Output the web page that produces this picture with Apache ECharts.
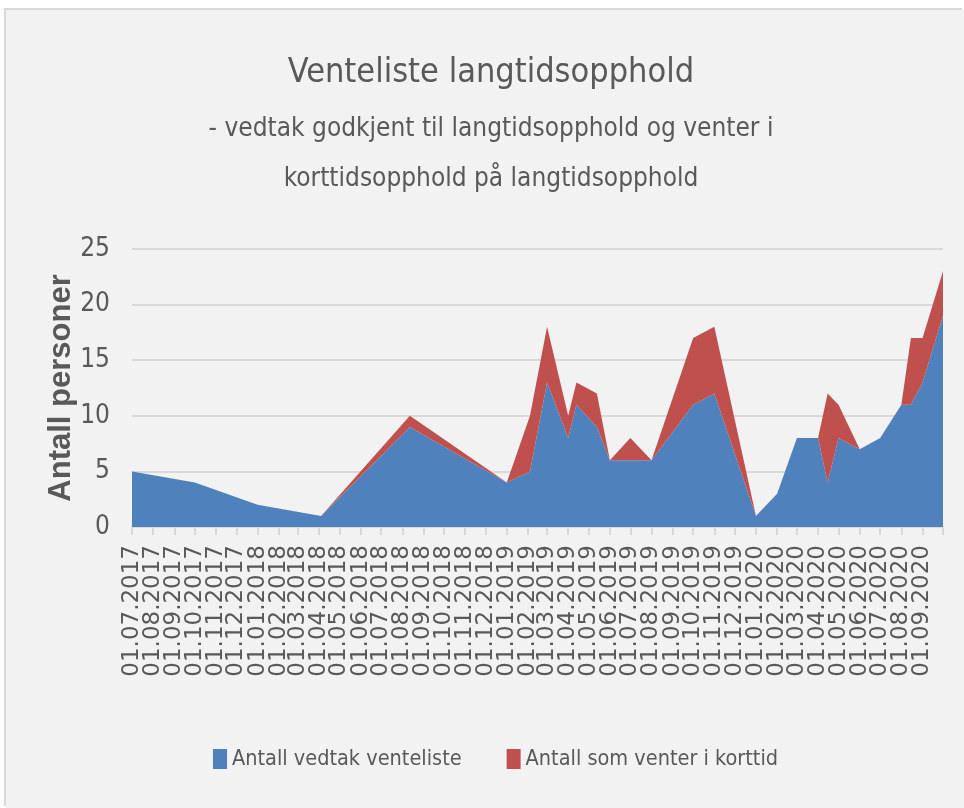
<!DOCTYPE html>
<html>
<head>
<meta charset="utf-8">
<title>Venteliste langtidsopphold</title>
<script src="https://cdn.jsdelivr.net/npm/echarts@6/dist/echarts.min.js"></script>
<style>
    body {
        margin: 0;
        background: #ffffff;
    }
    #chart {
        position: absolute;
        left: 6px;
        top: 10px;
        width: 958px;
        height: 798px;
        box-shadow: -2px -2px 0 #d9d9d9;
    }
</style>
</head>
<body>
<div id="chart"></div>
<script>
// datoer (dd.mm.yyyy) for hver registrering
const datoer = [
    "01.07.2017", "01.10.2017", "01.01.2018", "04.04.2018", "12.08.2018",
    "01.01.2019", "04.02.2019", "01.03.2019", "01.04.2019", "13.04.2019",
    "13.05.2019", "01.06.2019", "01.07.2019", "01.08.2019", "01.10.2019",
    "01.11.2019", "01.01.2020", "01.02.2020", "01.03.2020", "01.04.2020",
    "15.04.2020", "01.05.2020", "01.06.2020", "01.07.2020", "01.08.2020",
    "15.08.2020", "01.09.2020", "01.10.2020"
];
const vedtakVenteliste = [
    5, 4, 2, 1, 9, 4, 5, 13, 8, 11, 9, 6, 6, 6, 11, 12, 1, 3, 8, 8, 4, 8, 7, 8, 11, 11, 13, 19
];
const venterKorttid = [
    0, 0, 0, 0, 1, 0, 5, 5, 2, 2, 3, 0, 2, 0, 6, 6, 0, 0, 0, 0, 8, 3, 0, 0, 0, 6, 4, 4
];
const aksStart = "01.07.2017";
const aksSlutt = "01.10.2020";

function tilDato(s) {
    const [d, m, y] = s.split(".").map(Number);
    return new Date(y, m - 1, d).getTime();
}
function pad(n) {
    return n < 10 ? "0" + n : "" + n;
}

const tekstFarge = "#595959";
const smal = "'Liberation Sans Narrow', 'DejaVu Sans Condensed', sans-serif";

const chart = echarts.init(document.getElementById("chart"));
chart.setOption({
    backgroundColor: "#f2f2f2",
    animation: false,
    title: [
        {
            text: "Venteliste langtidsopphold",
            left: 485,
            top: 38,
            textAlign: "center",
            padding: 0,
            textStyle: {
                fontFamily: smal,
                fontSize: 34,
                fontWeight: "normal",
                lineHeight: 50,
                color: tekstFarge,
            },
        },
        {
            text: "- vedtak godkjent til langtidsopphold og venter i\nkorttidsopphold på langtidsopphold",
            left: 485,
            top: 94,
            textAlign: "center",
            padding: 0,
            textStyle: {
                fontFamily: smal,
                fontSize: 26,
                fontWeight: "normal",
                lineHeight: 50,
                color: tekstFarge,
            },
        },
    ],
    legend: {
        left: 207,
        top: 738,
        padding: 0,
        itemWidth: 14,
        itemHeight: 20,
        itemGap: 45,
        icon: "rect",
        textStyle: {
            fontFamily: smal,
            fontSize: 21.5,
            color: tekstFarge,
        },
        data: ["Antall vedtak venteliste", "Antall som venter i korttid"],
    },
    grid: {
        left: 126,
        top: 239,
        width: 811,
        height: 278,
        outerBoundsMode: "none",
    },
    xAxis: {
        type: "time",
        min: tilDato(aksStart),
        max: tilDato(aksSlutt),
        minInterval: 35 * 86400000,
        maxInterval: 35 * 86400000,
        axisLine: {
            lineStyle: { color: "#d9d9d9", width: 2 },
        },
        axisTick: {
            show: true,
            length: 8,
            lineStyle: { color: "#d9d9d9", width: 2 },
        },
        splitLine: { show: false },
        axisLabel: {
            rotate: 90,
            margin: 18,
            fontFamily: "'DejaVu Sans', sans-serif",
            fontSize: 23,
            color: tekstFarge,
            hideOverlap: false,
            formatter(value) {
                if (value >= tilDato(aksSlutt)) return "";
                const d = new Date(value);
                return pad(d.getDate()) + "." + pad(d.getMonth() + 1) + "." + d.getFullYear();
            },
        },
    },
    yAxis: {
        type: "value",
        min: 0,
        max: 25,
        interval: 5,
        name: "Antall personer",
        nameLocation: "middle",
        nameGap: 55,
        nameMoveOverlap: false,
        nameTextStyle: {
            fontFamily: "'Liberation Sans', Arial, sans-serif",
            fontSize: 31,
            fontWeight: "bold",
            color: tekstFarge,
        },
        axisLine: { show: false },
        axisTick: { show: false },
        axisLabel: {
            margin: 22,
            fontFamily: smal,
            fontSize: 26,
            color: tekstFarge,
        },
        splitLine: {
            lineStyle: { color: "#d9d9d9", width: 2 },
        },
    },
    series: [
        {
            name: "Antall vedtak venteliste",
            type: "line",
            stack: "total",
            symbol: "none",
            color: "#4f81bd",
            lineStyle: { width: 0 },
            areaStyle: { color: "#4f81bd", opacity: 1 },
            data: datoer.map((d, i) => [tilDato(d), vedtakVenteliste[i]]),
        },
        {
            name: "Antall som venter i korttid",
            type: "line",
            stack: "total",
            symbol: "none",
            color: "#c0504d",
            lineStyle: { width: 0 },
            areaStyle: { color: "#c0504d", opacity: 1 },
            data: datoer.map((d, i) => [tilDato(d), venterKorttid[i]]),
        },
    ],
});
</script>
</body>
</html>
